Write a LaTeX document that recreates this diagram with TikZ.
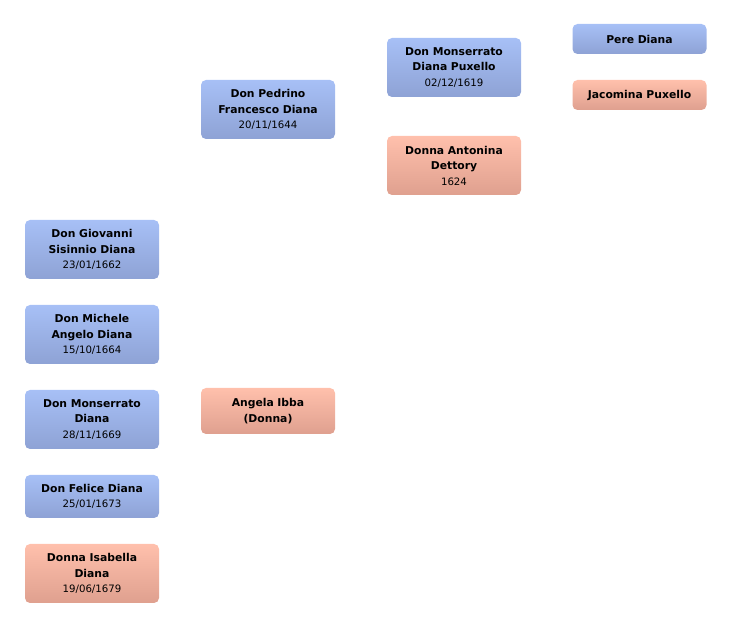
\documentclass[tikz,border=0pt]{standalone}
\usepackage{fontspec}
\setmainfont{DejaVu Sans}
\newcommand{\dte}[1]{{\fontsize{10.2}{15}\selectfont #1}}
\begin{document}
\begin{tikzpicture}[x=1pt,y=-1pt,
  person/.style={rounded corners=5pt, minimum width=134pt, text width=132pt, align=center, inner sep=0pt, font=\fontsize{10.8}{15.5}\selectfont},
  male/.style={person, top color=malet, bottom color=maleb},
  female/.style={person, top color=femt, bottom color=femb}
]
\definecolor{malet}{HTML}{A7C0F6}
\definecolor{maleb}{HTML}{8EA2D5}
\definecolor{femt}{HTML}{FFC0AC}
\definecolor{femb}{HTML}{DFA08F}
\useasboundingbox (0,0) rectangle (732,628);
\node[male, minimum height=59pt] (pedrino) at (268,109.5) {\textbf{Don Pedrino}\\\textbf{Francesco Diana}\\\dte{20/11/1644}};
\node[male, minimum height=59pt] (monpux) at (454,67.5) {\textbf{Don Monserrato}\\\textbf{Diana Puxello}\\\dte{02/12/1619}};
\node[female, minimum height=59pt] (antonina) at (454,165.5) {\textbf{Donna Antonina}\\\textbf{Dettory}\\\dte{1624}};
\node[male, minimum height=30pt] (pere) at (639.5,39) {\textbf{Pere Diana}};
\node[female, minimum height=30pt] (jacomina) at (639.5,95) {\textbf{Jacomina Puxello}};
\node[male, minimum height=59pt] (giovanni) at (92,249.5) {\textbf{Don Giovanni}\\\textbf{Sisinnio Diana}\\\dte{23/01/1662}};
\node[male, minimum height=59pt] (michele) at (92,334.5) {\textbf{Don Michele}\\\textbf{Angelo Diana}\\\dte{15/10/1664}};
\node[male, minimum height=59pt] (monserrato) at (92,419.5) {\textbf{Don Monserrato}\\\textbf{Diana}\\\dte{28/11/1669}};
\node[male, minimum height=43pt] (felice) at (92,496.5) {\textbf{Don Felice Diana}\\\dte{25/01/1673}};
\node[female, minimum height=59pt] (isabella) at (92,573.5) {\textbf{Donna Isabella}\\\textbf{Diana}\\\dte{19/06/1679}};
\node[female, minimum height=46pt] (angela) at (268,411) {\textbf{Angela Ibba}\\\textbf{(Donna)}};
\end{tikzpicture}
\end{document}
